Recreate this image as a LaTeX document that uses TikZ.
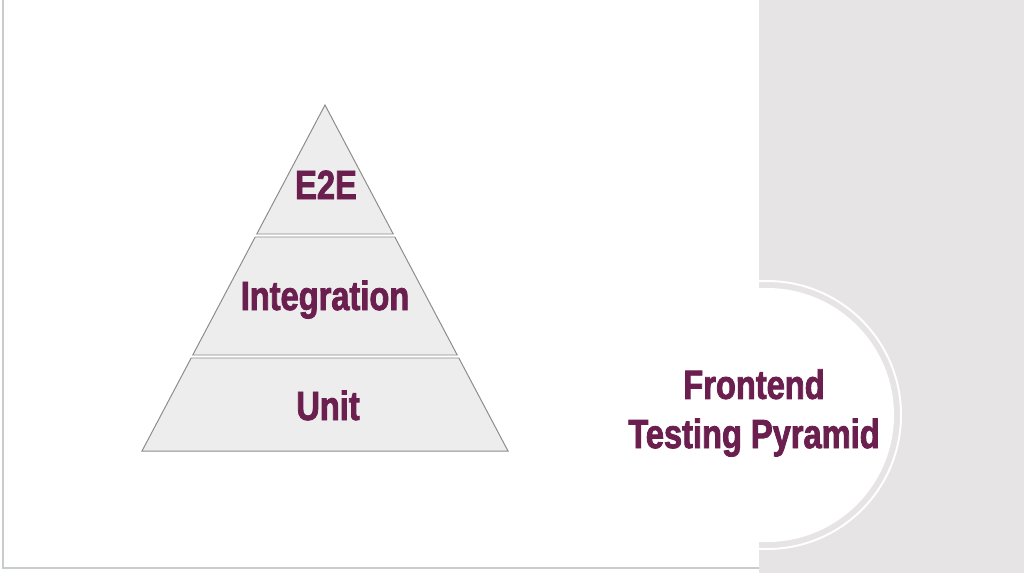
\documentclass[tikz,border=0pt]{standalone}
\usepackage{fontspec}
\newfontfamily\pyrfont{Liberation Sans}[FakeStretch=0.8, FakeBold=2]
\usetikzlibrary{positioning,calc}
\definecolor{pyrplum}{HTML}{6A1F4F}
\definecolor{pyrfill}{HTML}{EDEDED}
\definecolor{pyrline}{HTML}{8C8C8C}
\definecolor{sidegray}{HTML}{E6E4E5}
\definecolor{framegray}{HTML}{C9CCCC}
\tikzset{
  band/.style={draw=pyrline, fill=pyrfill, line width=0.7pt, line join=miter},
  lvl/.style={font=\pyrfont\bfseries\fontsize{29}{35}\selectfont, text=pyrplum,
    inner sep=0pt, anchor=base},
  ttl/.style={font=\pyrfont\bfseries\fontsize{29}{35}\selectfont, text=pyrplum,
    inner sep=0pt, align=center},
}
\begin{document}
\begin{tikzpicture}[x=0.025cm, y=-0.025cm]
    \useasboundingbox (0,0) rectangle (1024,573);
    % panels
    \fill[white] (0,0) rectangle (1024,573);
    \fill[sidegray] (759,0) rectangle (1024,573);
    \draw[framegray, line width=1.4pt] (3,0) -- (3,568) -- (759,568);
    % semicircle
    \begin{scope}
      \clip (759,0) rectangle (1024,573);
      \draw[white, line width=1.4pt] (767,415) circle (134);
      \fill[white] (767,415) circle (127);
    \end{scope}
    % pyramid
    \coordinate (apex) at (325,105);
    \coordinate (bl) at (142,451);
    \coordinate (br) at (508,451);
    \draw[band] (apex) -- ($(apex)!129/346!(bl)$) -- ($(apex)!129/346!(br)$) -- cycle;
    \draw[band] ($(apex)!132/346!(bl)$) -- ($(apex)!250/346!(bl)$)
      -- ($(apex)!250/346!(br)$) -- ($(apex)!132/346!(br)$) -- cycle;
    \draw[band] ($(apex)!253/346!(bl)$) -- (bl) -- (br) -- ($(apex)!253/346!(br)$) -- cycle;
    % labels
    \node[lvl] (e2e) at (326,199) {E2E};
    \node[lvl] (integ) at (325,310) {Integration};
    \node[lvl] (unit) at (328,420) {Unit};
    \node[ttl] (title) at (754,413) {Frontend\\Testing Pyramid};
\end{tikzpicture}
\end{document}
